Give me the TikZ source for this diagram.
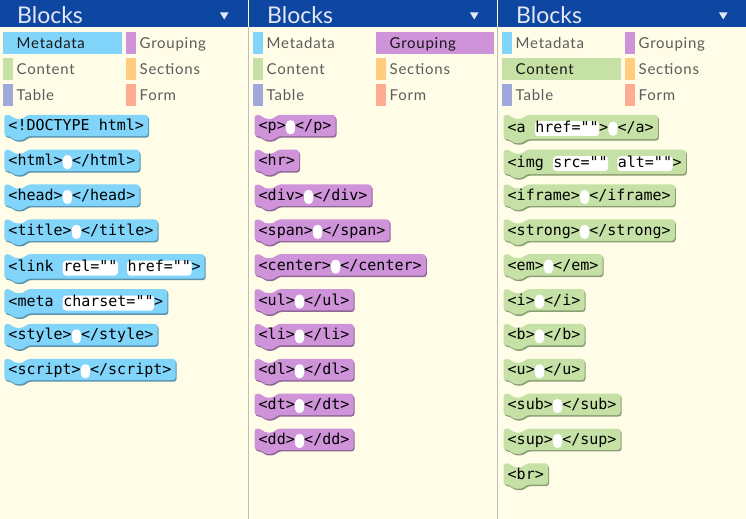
\documentclass[tikz,border=0pt]{standalone}
\usepackage{fontspec}
\setmainfont{Lato}
\setmonofont{DejaVu Sans Mono}
\newfontfamily\catfont{Lato}[LetterSpace=5]
\usetikzlibrary{calc}

\definecolor{headblue}{RGB}{13,71,161}
\definecolor{headtext}{RGB}{228,232,246}
\definecolor{paper}{RGB}{255,253,231}
\definecolor{sepgray}{RGB}{190,190,190}
\definecolor{catgray}{RGB}{92,92,92}
\definecolor{catsel}{RGB}{25,25,25}
\definecolor{metacol}{RGB}{129,212,250}
\definecolor{groupcol}{RGB}{206,147,216}
\definecolor{contentcol}{RGB}{197,225,165}
\definecolor{sectcol}{RGB}{255,204,128}
\definecolor{tablecol}{RGB}{159,168,218}
\definecolor{formcol}{RGB}{255,171,145}

\pgfdeclarelayer{words}
\pgfsetlayers{main,words}

% white input slot and white text field inside a block
\newcommand\inslot{\hspace{0.2bp}\tikz[baseline=0pt]\fill[white,rounded corners=4.2bp] (0bp,-3.5bp) rectangle (9bp,10.5bp);\hspace{0.2bp}}
\newcommand\infield[1]{\tikz[baseline=0pt]\node[fill=white,rounded corners=3.5bp,anchor=base,inner xsep=0.6bp,inner ysep=0pt,minimum width=0pt,minimum height=0pt,text height=11bp,text depth=4bp] (fld) at (0bp,0bp) {#1};}

% one block: [options]{name}{top left}{colour}{text}
\newcommand\blk[5][]{%
  \begin{pgfonlayer}{words}
    \node[blktext,#1] (#2) at #3 {#5};
  \end{pgfonlayer}
  \fill[#4,rounded corners=3bp,preaction={fill=#4!70!black,transform canvas={shift={(1bp,-1.5bp)}}}]
    (#2.north west) -- ++(6,0) -- ++(4,4) -- ++(9,0) -- ++(4,-4) -- (#2.north east)
    -- (#2.south east) -- ($(#2.south west)+(23,0)$) -- ++(-4,4) -- ++(-9,0)
    -- ++(-4,-4) -- (#2.south west) -- cycle;}

\begin{document}
\begin{tikzpicture}[x=1bp,y=-1bp,
  blktext/.style={anchor=north west,inner xsep=4bp,inner ysep=0pt,minimum height=21bp,
    text height=10.5bp,text depth=0bp,text=black,font=\ttfamily\fontsize{15bp}{18bp}\selectfont},
  tallblk/.style={minimum height=24bp},
  cattext/.style={anchor=base west,inner sep=0pt,text=catgray,font=\catfont\fontsize{15bp}{18bp}\selectfont},
  headtitle/.style={anchor=base west,inner sep=0pt,text=headtext,font=\fontsize{23bp}{27bp}\selectfont}]

\useasboundingbox (0,0) rectangle (746,519);
\fill[paper] (0,0) rectangle (746,519);
\fill[headblue] (0,0) rectangle (746,27);
\fill[paper] (248,0) rectangle (249,27);
\fill[paper] (497,0) rectangle (498,27);
\fill[sepgray] (248,27) rectangle (249,519);
\fill[sepgray] (497,27) rectangle (498,519);

% header and category list of each panel
\foreach \px/\s [count=\p] in {-1/1, 249/4, 498/2} {
  \node[headtitle] (title\p) at (\px+18,23.5) {Blocks};
  \fill[headtext] (\px+221,12.5) -- (\px+229.5,12.5) -- (\px+225.25,19.5) -- cycle;
  \foreach \cx/\cy/\cw/\cname/\ccol [count=\c] in {4/32/119/Metadata/metacol, 4/58/119/Content/contentcol,
      4/84/119/Table/tablecol, 127/32/118/Grouping/groupcol, 127/58/118/Sections/sectcol, 127/84/118/Form/formcol} {
    \ifnum\c=\s
      \fill[\ccol] (\px+\cx,\cy) rectangle ++(\cw,22);
      \node[cattext,text=catsel] (cat\p\cname) at (\px+\cx+13.5,\cy+16.5) {\cname};
    \else
      \fill[\ccol] (\px+\cx,\cy) rectangle ++(9.5,22);
      \node[cattext] (cat\p\cname) at (\px+\cx+13.5,\cy+16.5) {\cname};
    \fi
  }
}

% metadata
\blk{m1}{(4.3,114.8)}{metacol}{<!DOCTYPE html>}
\blk{m2}{(4.3,149.7)}{metacol}{<html>\inslot</html>}
\blk{m3}{(4.3,184.5)}{metacol}{<head>\inslot</head>}
\blk{m4}{(4.3,219.4)}{metacol}{<title>\inslot</title>}
\blk[tallblk]{m5}{(4.3,254.2)}{metacol}{<link \infield{rel=""} \infield{href=""}>}
\blk[tallblk]{m6}{(4.3,289.1)}{metacol}{<meta \infield{charset=""}>}
\blk{m7}{(4.3,323.9)}{metacol}{<style>\inslot</style>}
\blk{m8}{(4.3,358.8)}{metacol}{<script>\inslot</script>}

% grouping
\blk{g1}{(254.5,114.8)}{groupcol}{<p>\inslot</p>}
\blk{g2}{(254.5,149.7)}{groupcol}{<hr>}
\blk{g3}{(254.5,184.5)}{groupcol}{<div>\inslot</div>}
\blk{g4}{(254.5,219.4)}{groupcol}{<span>\inslot</span>}
\blk{g5}{(254.5,254.2)}{groupcol}{<center>\inslot</center>}
\blk{g6}{(254.5,289.1)}{groupcol}{<ul>\inslot</ul>}
\blk{g7}{(254.5,323.9)}{groupcol}{<li>\inslot</li>}
\blk{g8}{(254.5,358.8)}{groupcol}{<dl>\inslot</dl>}
\blk{g9}{(254.5,393.6)}{groupcol}{<dt>\inslot</dt>}
\blk{g10}{(254.5,428.5)}{groupcol}{<dd>\inslot</dd>}

% content
\blk[tallblk]{c1}{(503.5,114.8)}{contentcol}{<a \infield{href=""}>\inslot</a>}
\blk[tallblk]{c2}{(503.5,149.7)}{contentcol}{<img \infield{src=""} \infield{alt=""}>}
\blk{c3}{(503.5,184.5)}{contentcol}{<iframe>\inslot</iframe>}
\blk{c4}{(503.5,219.4)}{contentcol}{<strong>\inslot</strong>}
\blk{c5}{(503.5,254.2)}{contentcol}{<em>\inslot</em>}
\blk{c6}{(503.5,289.1)}{contentcol}{<i>\inslot</i>}
\blk{c7}{(503.5,323.9)}{contentcol}{<b>\inslot</b>}
\blk{c8}{(503.5,358.8)}{contentcol}{<u>\inslot</u>}
\blk{c9}{(503.5,393.6)}{contentcol}{<sub>\inslot</sub>}
\blk{c10}{(503.5,428.5)}{contentcol}{<sup>\inslot</sup>}
\blk{c11}{(503.5,463.3)}{contentcol}{<br>}
\end{tikzpicture}
\end{document}
